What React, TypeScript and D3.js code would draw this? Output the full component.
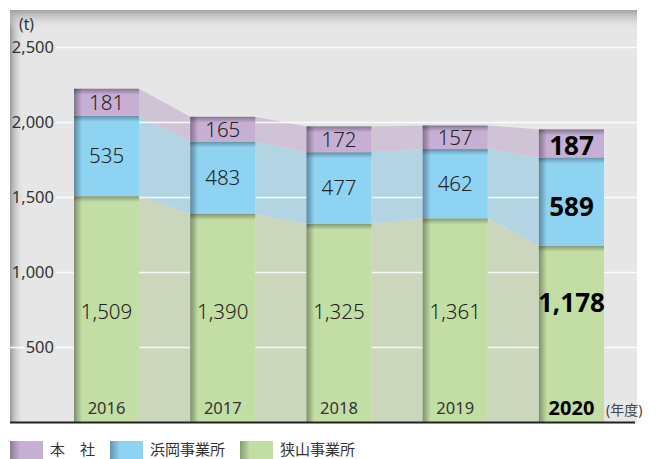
import React from "react";
import * as d3 from "d3";

const years = ["2016", "2017", "2018", "2019", "2020"];
const honsha = [181, 165, 172, 157, 187];
const hamaoka = [535, 483, 477, 462, 589];
const sayama = [1509, 1390, 1325, 1361, 1178];
const yTicks = [500, 1000, 1500, 2000, 2500];
const seriesNames = ["本　社", "浜岡事業所", "狭山事業所"];

const W = 657, H = 459;
const plotL = 10, plotR = 637, plotT = 10, base = 422.5;

const barColors = ["#c7afd4", "#8fd3f3", "#c3dea5"];
const linkColors = ["#d0c3d5", "#b3d4e3", "#cbd6bd"];

export default function App() {
  const y = d3.scaleLinear().domain([0, 2500]).range([base, 47.5]);
  const x = d3.scaleBand<string>().domain(years).range([74, 604]).paddingInner(0.44).paddingOuter(0);
  const bw = x.bandwidth();

  const rows = years.map((yr, i) => ({ year: yr, sayama: sayama[i], hamaoka: hamaoka[i], honsha: honsha[i] }));
  const stack = d3.stack<any>().keys(["sayama", "hamaoka", "honsha"])(rows);
  const colorIdx = [2, 1, 0];

  const area = d3.area<[number, number, number]>().x(d => d[0]).y0(d => y(d[1])).y1(d => y(d[2]));

  const fmt = d3.format(",");
  const textFont = "'Noto Sans', 'Noto Sans CJK JP', sans-serif";

  const estW = (s: string) => s.length * 9.2;

  return (
    <svg width={W} height={H} style={{ position: "absolute", left: 0, top: 0, background: "#fff" }}>
      <defs>
        <linearGradient id="bgLeft" x1="0" x2="1" y1="0" y2="0">
          <stop offset="0" stopColor="#999" />
          <stop offset="1" stopColor="#e6e6e6" stopOpacity="0" />
        </linearGradient>
        <linearGradient id="bgTop" x1="0" x2="0" y1="0" y2="1">
          <stop offset="0" stopColor="#a2a2a2" />
          <stop offset="1" stopColor="#e6e6e6" stopOpacity="0" />
        </linearGradient>
        <linearGradient id="segLeft" x1="0" x2="1" y1="0" y2="0">
          <stop offset="0" stopColor="#000" stopOpacity="0.35" />
          <stop offset="1" stopColor="#000" stopOpacity="0" />
        </linearGradient>
        <linearGradient id="segTop" x1="0" x2="0" y1="0" y2="1">
          <stop offset="0" stopColor="#000" stopOpacity="0.32" />
          <stop offset="1" stopColor="#000" stopOpacity="0" />
        </linearGradient>
        <linearGradient id="swLeft" x1="0" x2="1" y1="0" y2="0">
          <stop offset="0" stopColor="#000" stopOpacity="0.3" />
          <stop offset="1" stopColor="#000" stopOpacity="0" />
        </linearGradient>
      </defs>

      <rect x={plotL} y={plotT} width={plotR - plotL} height={base - plotT} fill="#e6e6e6" />
      <rect x={plotL} y={plotT} width={14} height={base - plotT} fill="url(#bgLeft)" />
      <rect x={plotL} y={plotT} width={plotR - plotL} height={20} fill="url(#bgTop)" />

      {stack.map((s, si) =>
        years.slice(0, -1).map((yr, i) => {
          const xa = (x(yr) as number) + bw;
          const xb = x(years[i + 1]) as number;
          const pts: [number, number, number][] = [
            [xa, s[i][0], s[i][1]],
            [xb, s[i + 1][0], s[i + 1][1]],
          ];
          return <path key={`c${si}-${i}`} d={area(pts) || ""} fill={linkColors[colorIdx[si]]} />;
        })
      )}

      {yTicks.map(t => (
        <g key={`g${t}`}>
          <line x1={56} x2={plotR} y1={y(t)} y2={y(t)} stroke="#fff" strokeOpacity={0.85} strokeWidth={1.5} />
          <line x1={plotL} x2={Math.max(plotL, 54 - estW(fmt(t)) - 2)} y1={y(t)} y2={y(t)} stroke="#fff" strokeWidth={1.5} />
          <text x={54} y={y(t)} dy="0.35em" textAnchor="end" fontSize={16.5} fill="#333" fontFamily={textFont}>
            {fmt(t)}
          </text>
        </g>
      ))}
      <text x={19} y={25} dy="0.35em" fontSize={15.5} fill="#333" fontFamily={textFont}>(t)</text>

      {stack.map((s, si) =>
        s.map((d, i) => {
          const x0 = x(years[i]) as number;
          const top = y(d[1]);
          const bot = y(d[0]);
          const h = bot - top;
          return (
            <g key={`b${si}-${i}`}>
              <rect x={x0} y={top} width={bw} height={h} fill={barColors[colorIdx[si]]} />
              <rect x={x0} y={top} width={8} height={h} fill="url(#segLeft)" />
              <rect x={x0} y={top} width={bw} height={Math.min(6, h)} fill="url(#segTop)" />
            </g>
          );
        })
      )}

      {stack.map((s, si) =>
        s.map((d, i) => {
          const last = i === years.length - 1;
          const cx = (x(years[i]) as number) + bw / 2;
          let cy = (y(d[0]) + y(d[1])) / 2;
          if (si === 0) cy = last ? y(800) : y(740);
          if (last && si === 1) cy += 5;
          if (last && si === 2) cy += 2;
          const v = d[1] - d[0];
          return (
            <text key={`l${si}-${i}`} x={cx} y={cy} dy="0.36em" textAnchor="middle"
              fontSize={last ? 26 : 20.5} fontWeight={last ? 700 : 300} fill={last ? "#000" : "#222"} fontFamily={textFont}>
              {fmt(v)}
            </text>
          );
        })
      )}

      {years.map((yr, i) => {
        const last = i === years.length - 1;
        return (
          <text key={`y${yr}`} x={(x(yr) as number) + bw / 2} y={408} dy="0.36em" textAnchor="middle"
            fontSize={last ? 20 : 16.5} fontWeight={last ? 700 : 400} fill={last ? "#000" : "#333"} fontFamily={textFont}>
            {yr}
          </text>
        );
      })}
      <text x={606} y={410} dy="0.36em" fontSize={14} fill="#444" fontFamily={textFont}>(年度)</text>

      <line x1={plotL} x2={plotR - 2} y1={base} y2={base} stroke="#222" strokeWidth={2} />

      {seriesNames.map((n, i) => {
        const lx = [10, 110, 240][i];
        return (
          <g key={`lg${i}`}>
            <rect x={lx} y={441} width={33} height={20} fill={barColors[i]} />
            <rect x={lx} y={441} width={10} height={20} fill="url(#swLeft)" />
            <text x={lx + 40} y={450} dy="0.36em" fontSize={15} fill="#333" fontFamily={textFont}>{n}</text>
          </g>
        );
      })}
    </svg>
  );
}
